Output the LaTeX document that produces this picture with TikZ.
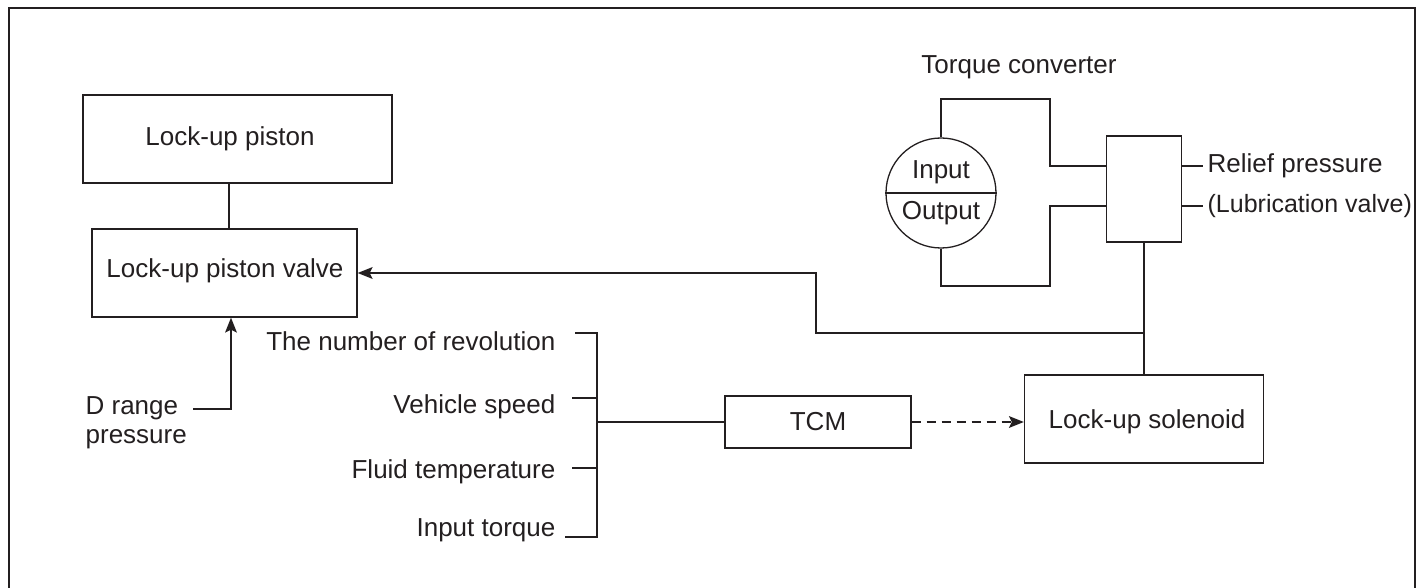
\documentclass[tikz,border=0pt]{standalone}
\usepackage{fontspec}
\setmainfont{Liberation Sans}
\usetikzlibrary{arrows.meta}

\definecolor{ink}{HTML}{231F20}
\tikzset{every picture/.style={line width=1.3pt}}
\tikzset{
  box/.style={draw=ink, inner sep=0pt},
  lbl/.style={text=ink, inner sep=4pt},
  tip/.tip={Stealth[length=15pt,width=12pt,inset=3pt,line width=0pt]},
  arr/.style={-tip},
}

\begin{document}
\begin{tikzpicture}[x=1pt,y=1pt,yscale=-1,xscale=1,draw=ink,font=\fontsize{26}{30}\selectfont]
\useasboundingbox (0,0) rectangle (1422,588);

%Shape: Frame
\draw [line width=2.4pt] (9,588) -- (9,8) -- (1415,8) -- (1415,588);

%Shape: Rectangle
\node [box, minimum width=309, minimum height=88] (piston) at (237.5,139) {};
\node [lbl] (pistontxt) at (230,139) {Lock-up piston};
%Shape: Rectangle
\node [box, minimum width=265, minimum height=88] (valve) at (224.5,273) {};
\node [lbl] (valvetxt) at (225,271) {Lock-up piston valve};
%Shape: Rectangle
\node [box, minimum width=186, minimum height=52] (tcm) at (818,422) {};
\node [lbl] (tcmtxt) at (818,422) {TCM};
%Shape: Rectangle
\node [box, minimum width=239, minimum height=88] (solenoid) at (1144,419) {};
\node [lbl] (solenoidtxt) at (1147,422) {Lock-up solenoid};
%Shape: Rectangle
\node [box, minimum width=75, minimum height=106] (block) at (1144,189) {};
%Shape: Circle
\node [box, circle, minimum size=110] (tc) at (941,193) {};
\draw (tc.west) -- (tc.east);

% Text Node
\node [lbl] (tctitle) at (1019,67) {Torque converter};
% Text Node
\node [lbl] (input) at (941,172) {Input};
% Text Node
\node [lbl] (output) at (941,213) {Output};
% Text Node
\node [lbl, anchor=west] (relief) at (1203,166) {Relief pressure};
% Text Node
\node [lbl, anchor=west, font=\fontsize{25}{30}\selectfont] (lub) at (1203,206) {(Lubrication valve)};
% Text Node
\node [lbl, anchor=west, align=left, font=\fontsize{26}{29}\selectfont] (drange) at (81,423) {D range\\pressure};
% Text Node
\node [lbl, anchor=east] (rev) at (560,341) {The number of revolution};
% Text Node
\node [lbl, anchor=east] (spd) at (560,407) {Vehicle speed};
% Text Node
\node [lbl, anchor=east] (tmp) at (560,472) {Fluid temperature};
% Text Node
\node [lbl, anchor=east] (trq) at (560,530) {Input torque};

% piston -- valve
\draw ([xshift=-8.5]piston.south) -- ([xshift=4.5]valve.north);
% D range pressure
\coordinate (dr) at (193,409);
\draw [arr] (dr) -| ([xshift=6.5]valve.south);

% torque converter circuit
\draw (tc.north) |- (1050,99) |- (block.west |- 0,166);
\draw (tc.south) |- (1050,286) |- (block.west |- 0,206);
\draw (block.east |- relief) -- (relief.west);
\draw (block.east |- lub) -- (lub.west);
\draw (block.south) -- (solenoid.north);

% feedback to valve
\coordinate (junc) at (1144,333);
\coordinate (bend) at (816,333);
\draw [arr] (junc) -- (bend) |- (valve.east);

% signal bracket
\coordinate (bus1) at (597,333);
\coordinate (bus2) at (597,398);
\coordinate (bus3) at (597,468);
\coordinate (bus4) at (597,537);
\draw (bus1 -| 575,0) -- (bus1) -- (bus4) -- (bus4 -| 565,0);
\draw (bus2 -| 572,0) -- (bus2);
\draw (bus3 -| 572,0) -- (bus3);
\draw (tcm.west -| bus1) -- (tcm.west);

% TCM -> solenoid
\draw [arr, dash pattern=on 9pt off 6pt] (tcm.east) -- (tcm.east -| solenoid.west);

\end{tikzpicture}
\end{document}
